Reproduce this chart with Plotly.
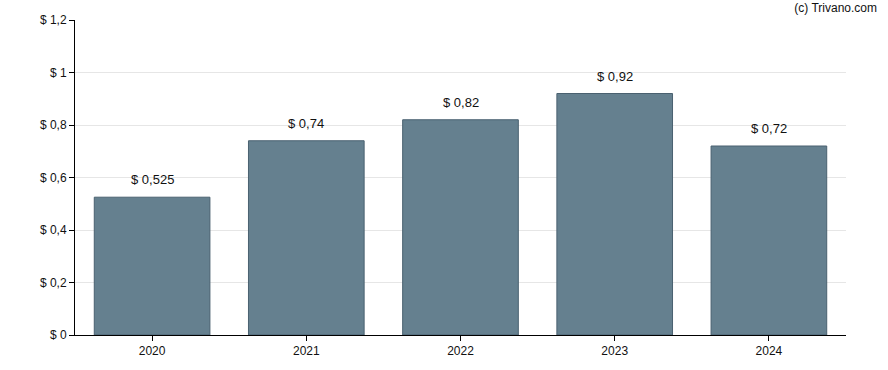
import plotly.graph_objects as go

years = ["2020", "2021", "2022", "2023", "2024"]
values = [0.525, 0.74, 0.82, 0.92, 0.72]
labels = ["$ 0,525", "$ 0,74", "$ 0,82", "$ 0,92", "$ 0,72"]

fig = go.Figure(go.Bar(
    x=years, y=values,
    marker=dict(color="#65808f", line=dict(color="#4a6170", width=1)),
    hoverinfo="skip",
))

# annotations positioned by category index (string years would be read as numbers)
for i, (y, t) in enumerate(zip(values, labels)):
    fig.add_annotation(x=i, y=y, text=t, showarrow=False, yanchor="bottom",
                       yshift=8, font=dict(size=13, color="#111"))

fig.update_layout(
    width=888, height=370,
    margin=dict(l=75, r=42, t=20, b=35, autoexpand=False),
    paper_bgcolor="white", plot_bgcolor="white",
    font=dict(family="Arial, 'Liberation Sans', sans-serif", size=12, color="#111"),
    separators=",.",
    bargap=0.25,
    showlegend=False,
    title=dict(text="(c) Trivano.com", x=877 / 888, xanchor="right", xref="container",
               y=1 - 8 / 370, yref="container", yanchor="middle",
               font=dict(size=12, color="#111")),
    xaxis=dict(type="category", range=[-0.5, 4.5], showline=True, linecolor="black",
               linewidth=1, ticks="outside", ticklen=5, tickcolor="black",
               showgrid=False),
    yaxis=dict(range=[0, 1.2], dtick=0.2, tickprefix="$ ", showline=True,
               linecolor="black", linewidth=1, ticks="outside", ticklen=5,
               tickcolor="black", gridcolor="#e6e6e6", zeroline=False),
)

fig.write_html("out.html", config={"displayModeBar": False},
               post_script="document.body.style.margin='0';")
